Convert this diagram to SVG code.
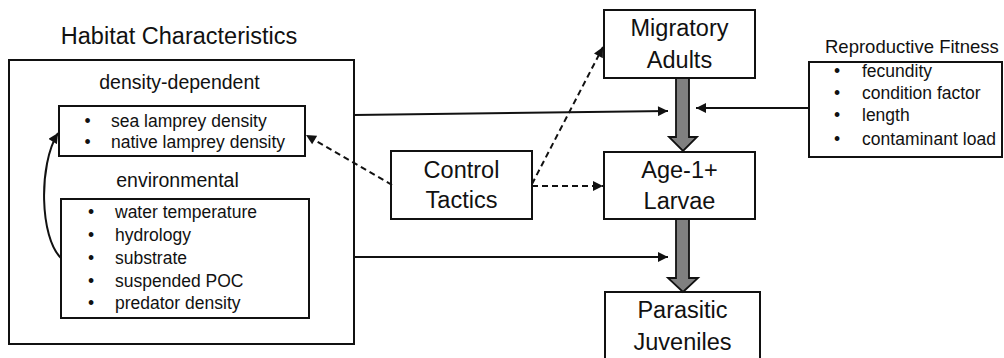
<svg xmlns="http://www.w3.org/2000/svg" width="1004" height="358" viewBox="0 0 1004 358">
<defs>
<style>
text{font-family:"Liberation Sans",Arial,sans-serif;fill:#111}
.box{fill:#fff;stroke:#111;stroke-width:2}
.lbl{font-size:23.5px;text-anchor:middle}
.sub{font-size:19.5px;text-anchor:middle}
.it{font-size:17.5px}
.bul{font-size:17.5px;text-anchor:middle}
.ln{fill:none;stroke:#111;stroke-width:2}
.dash{stroke-dasharray:6 4}
.big{fill:#808080;stroke:#111;stroke-width:1.8;stroke-linejoin:miter}
</style>
<marker id="ah" viewBox="0 0 10 10" refX="10" refY="5" markerWidth="11" markerHeight="10" markerUnits="userSpaceOnUse" orient="auto">
<path d="M0,0 L10,5 L0,10 Z" fill="#111"/>
</marker>
</defs>
<rect width="1004" height="358" fill="#fff"/>

<g id="habitat">
<text x="179" y="44" font-size="23.5" text-anchor="middle">Habitat Characteristics</text>
<rect class="box" x="9" y="60" width="345" height="284"/>
<text class="sub" x="179.5" y="89">density-dependent</text>
<text class="sub" x="177.5" y="187">environmental</text>
</g>

<g id="density-dependent">
<rect class="box" x="59" y="106" width="246" height="50"/>
<text class="bul" x="87.5" y="127">•</text>
<text class="it" x="111" y="127">sea lamprey density</text>
<text class="bul" x="87.5" y="148">•</text>
<text class="it" x="111" y="148">native lamprey density</text>
</g>

<g id="environmental">
<rect class="box" x="61" y="199" width="248" height="119"/>
<text class="bul" x="91" y="218">•</text>
<text class="it" x="115" y="218">water temperature</text>
<text class="bul" x="91" y="241">•</text>
<text class="it" x="115" y="241">hydrology</text>
<text class="bul" x="91" y="264">•</text>
<text class="it" x="115" y="264">substrate</text>
<text class="bul" x="91" y="287">•</text>
<text class="it" x="115" y="287">suspended POC</text>
<text class="bul" x="91" y="309">•</text>
<text class="it" x="115" y="309">predator density</text>
</g>

<g id="control-tactics">
<rect class="box" x="391" y="151" width="141" height="68"/>
<text class="lbl" x="461.5" y="178">Control</text>
<text class="lbl" x="461.5" y="208">Tactics</text>
</g>

<g id="migratory-adults">
<rect class="box" x="604" y="10" width="151" height="68"/>
<text class="lbl" x="679.5" y="36">Migratory</text>
<text class="lbl" x="679.5" y="68">Adults</text>
</g>

<g id="age1-larvae">
<rect class="box" x="604" y="152" width="151" height="67"/>
<text class="lbl" x="679.5" y="178">Age-1+</text>
<text class="lbl" x="679.5" y="209">Larvae</text>
</g>

<g id="parasitic-juveniles">
<rect class="box" x="605" y="292" width="155" height="90"/>
<text class="lbl" x="682.5" y="318">Parasitic</text>
<text class="lbl" x="682.5" y="350">Juveniles</text>
</g>

<g id="reproductive-fitness">
<text x="825" y="53" font-size="18.5">Reproductive Fitness</text>
<rect class="box" x="809" y="62" width="193" height="95"/>
<text class="bul" x="837" y="77">•</text>
<text class="it" x="862" y="77">fecundity</text>
<text class="bul" x="837" y="99">•</text>
<text class="it" x="862" y="99">condition factor</text>
<text class="bul" x="837" y="121">•</text>
<text class="it" x="862" y="121">length</text>
<text class="bul" x="837" y="145">•</text>
<text class="it" x="862" y="145" textLength="134" lengthAdjust="spacing">contaminant load</text>
</g>

<g id="connectors">
<polygon class="big" points="676,78 689,78 689,137 697,137 683,151 669,137 676,137"/>
<polygon class="big" points="676,219 689,219 689,278 698,278 683,292 668,278 676,278"/>
<path class="ln" d="M354,115 L668,111" marker-end="url(#ah)"/>
<path class="ln" d="M354,257 L668,257" marker-end="url(#ah)"/>
<path class="ln" d="M809,108 L696,108" marker-end="url(#ah)"/>
<path class="ln dash" d="M392,185 L306,135" marker-end="url(#ah)"/>
<path class="ln dash" d="M532,184 L603,47" marker-end="url(#ah)"/>
<path class="ln dash" d="M532,186 L603,186" marker-end="url(#ah)"/>
<path class="ln" d="M61,258 C40,238 38,165 58,133" marker-end="url(#ah)"/>
</g>
</svg>
